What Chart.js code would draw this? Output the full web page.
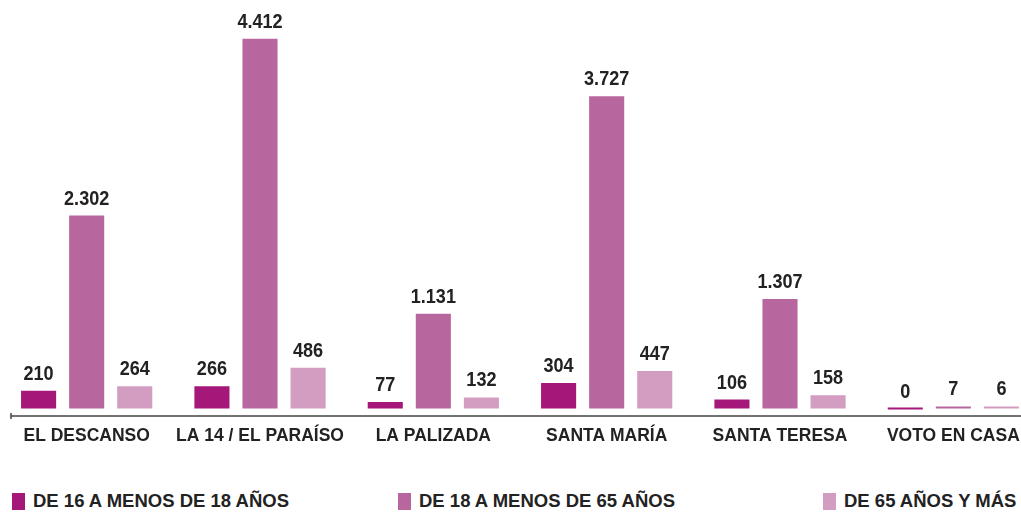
<!DOCTYPE html>
<html>
<head>
<meta charset="utf-8">
<script src="https://cdn.jsdelivr.net/npm/chart.js@4"></script>
<style>
  body { margin: 0; background: #fff; overflow: hidden; width: 1021px; height: 512px; position: relative;
         font-family: "Liberation Sans", Arial, sans-serif; }
  #wrap { position: absolute; left: 0; top: 0; width: 1021px; height: 470px; overflow: hidden; }
  .leg { position: absolute; top: 490px; height: 22px; display: flex; align-items: center;
         font-weight: bold; font-size: 18.5px; color: #222; white-space: nowrap; }
  .leg span { display: inline-block; width: 13px; height: 17px; margin-right: 8px; }
</style>
</head>
<body>
<div id="wrap"><canvas id="grafico" width="1040" height="470"></canvas></div>
<div id="leyenda"></div>

<script>
const categorias = ["EL DESCANSO", "LA 14 / EL PARAÍSO", "LA PALIZADA", "SANTA MARÍA", "SANTA TERESA", "VOTO EN CASA"];
const series = ["DE 16 A MENOS DE 18 AÑOS", "DE 18 A MENOS DE 65 AÑOS", "DE 65 AÑOS Y MÁS"];
const de16a18 = [210, 266, 77, 304, 106, 0];
const de18a65 = [2302, 4412, 1131, 3727, 1307, 7];
const de65ymas = [264, 486, 132, 447, 158, 6];
const colores = ["#a5187a", "#b8679e", "#d39dc2"];

const fuente = '"Liberation Sans", Arial, sans-serif';

function formato(v) {
    return String(v).replace(/\B(?=(\d{3})+(?!\d))/g, ".");
}

// etiquetas de valor encima de cada barra (letra algo estrecha)
const etiquetas = {
    id: "etiquetas",
    afterDatasetsDraw(chart) {
        const ctx = chart.ctx;
        ctx.save();
        ctx.font = "bold 21px " + fuente;
        ctx.fillStyle = "#222";
        ctx.textAlign = "center";
        ctx.textBaseline = "alphabetic";
        chart.data.datasets.forEach((ds, i) => {
            chart.getDatasetMeta(i).data.forEach((bar, j) => {
                ctx.save();
                ctx.translate(bar.x, bar.y - 11);
                ctx.scale(0.86, 1);
                ctx.fillText(formato(ds.data[j]), 0, 0);
                ctx.restore();
            });
        });
        ctx.restore();
    }
};

// linea del eje con la marquita a la izquierda
const ejeX = {
    id: "ejeX",
    afterDraw(chart) {
        const ctx = chart.ctx;
        const y = chart.chartArea.bottom;
        ctx.save();
        ctx.strokeStyle = "#444";
        ctx.lineWidth = 1.5;
        ctx.beginPath();
        ctx.moveTo(11, y);
        ctx.lineTo(chart.width, y);
        ctx.moveTo(11, y - 3);
        ctx.lineTo(11, y + 3);
        ctx.stroke();
        ctx.restore();
    }
};

new Chart(document.getElementById("grafico"), {
    type: "bar",
    data: {
        labels: categorias,
        datasets: [
            { label: series[0], data: de16a18, backgroundColor: colores[0] },
            { label: series[1], data: de18a65, backgroundColor: colores[1] },
            { label: series[2], data: de65ymas, backgroundColor: colores[2] },
        ],
    },
    options: {
        responsive: false,
        animation: false,
        layout: { padding: { top: 0, left: 0, right: 0, bottom: 13 } },
        datasets: {
            bar: {
                categoryPercentage: 0.832,
                barPercentage: 0.73,
                minBarLength: 2,
                borderWidth: 0,
            },
        },
        plugins: {
            legend: { display: false },
            tooltip: { enabled: false },
        },
        scales: {
            x: {
                grid: { display: false, drawTicks: false },
                border: { display: false },
                ticks: {
                    color: "#222",
                    padding: 10,
                    maxRotation: 0,
                    autoSkip: false,
                    font: { family: fuente, size: 17.5, weight: "bold" },
                },
            },
            y: {
                display: false,
                min: -90,
                max: 4875,
            },
        },
    },
    plugins: [etiquetas, ejeX],
});

// leyenda
const posiciones = [12, 398, 823];
const leyenda = document.getElementById("leyenda");
series.forEach((s, i) => {
    const d = document.createElement("div");
    d.className = "leg";
    d.style.left = posiciones[i] + "px";
    d.innerHTML = '<span style="background:' + colores[i] + '"></span>' + s;
    leyenda.appendChild(d);
});
</script>
</body>
</html>
